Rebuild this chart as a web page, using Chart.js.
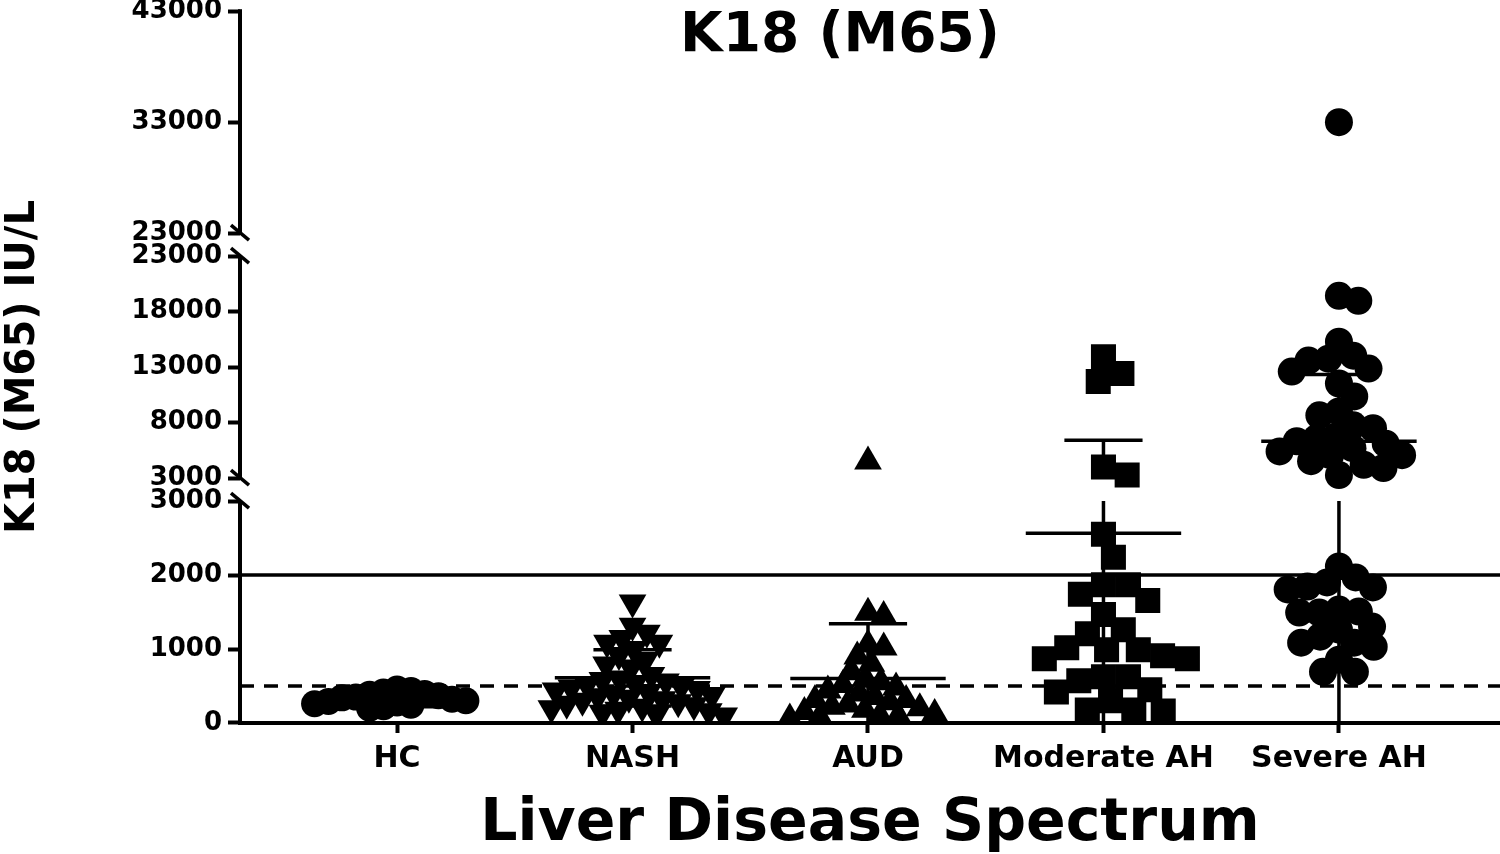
<!DOCTYPE html>
<html>
<head>
<meta charset="utf-8">
<script src="https://cdn.jsdelivr.net/npm/chart.js@4.4.0/dist/chart.umd.min.js"></script>
<style>
  html, body { margin: 0; padding: 0; background: #fff; }
  canvas { display: block; }
</style>
</head>
<body>
<canvas id="k18Chart" width="1500" height="854"></canvas>
<script>
// values (IU/L)
const groups = ['HC', 'NASH', 'AUD', 'Moderate AH', 'Severe AH'];
const hcValues = [460, 440, 420, 400, 390, 370, 350, 340, 320, 300, 290, 270, 260, 240, 220, 200];
const nashValues = [1630, 1316, 1220, 1150, 1085, 1085, 1000, 920, 850, 790, 750, 650, 600, 580, 560, 540,
  520, 500, 480, 460, 440, 420, 400, 380, 360, 340, 320, 300, 280, 260, 240, 220, 200, 180, 160, 140, 120, 100];
const audValues = [4500, 1490, 1445, 1060, 1020, 900, 800, 700, 600, 550, 515, 480, 440, 400, 350, 312, 312,
  280, 250, 220, 200, 180, 150, 120, 100, 95, 80, 60];
const moderateValues = [13940, 12420, 11700, 3990, 3270, 2550, 2240, 1870, 1870, 1740, 1655, 1466, 1260, 1207,
  1017, 990, 990, 909, 868, 868, 624, 624, 570, 448, 420, 300, 176, 176, 163];
const severeValues = [33000, 19420, 18970, 15290, 14030, 13760, 13590, 12870, 12600, 11520, 10360, 9010, 8650,
  7750, 7490, 6770, 6590, 6320, 6100, 5690, 5400, 5060, 5060, 4520, 4200, 3900, 3270,
  2117, 1968, 1900, 1845, 1832, 1805, 1533, 1506, 1493, 1493, 1303, 1262, 1167, 1086, 1086, 1031, 855, 692, 692];
const groupMeans = [320, 610, 600, 2565, 6320];
const sdUpper = [420, 990, 1343, 6400, 12330];
const sdLower = [220, 230, 0, 0, 0];
const cutoffSolid = 2000;
const cutoffDashed = 500;
const lowTicks = [0, 1000, 2000, 3000];
const midTicks = [3000, 8000, 13000, 18000, 23000];
const highTicks = [23000, 33000, 43000];

const titleText = 'K18 (M65)';
const yTitle = 'K18 (M65) IU/L';
const xTitle = 'Liver Disease Spectrum';

// ---- layout settings ----
Chart.defaults.font.family = '"DejaVu Sans", "Liberation Sans", sans-serif';
Chart.defaults.font.weight = 'bold';
Chart.defaults.color = '#000';

const xMin = -0.667, xMax = 4.684;
const catPx = 1260 / (xMax - xMin);
const segH = 222, segGap = 23;
const segs = [
  { id: 'yLow', min: 0, max: 3000, ticks: lowTicks },
  { id: 'yMid', min: 3000, max: 23000, ticks: midTicks },
  { id: 'yHigh', min: 23000, max: 43000, ticks: highTicks }
];

const allValues = [hcValues, nashValues, audValues, moderateValues, severeValues];
const markerStyle = ['circle', 'triangle', 'triangle', 'rect', 'circle'];
const markerRot = [0, 180, 0, 0, 0];
const markerRadius = [13.5, 16, 16, 17.7, 14];
const swarmGap = [14, 16, 16, 25, 20];

function segIndex(v) {
  if (v <= 3000) return 0;
  if (v <= 23000) return 1;
  return 2;
}

// approximate pixel height of a value, used only to spread the dots sideways
function toPx(v) {
  const i = segIndex(v);
  const s = segs[i];
  return i * (segH + segGap) + (v - s.min) * segH / (s.max - s.min);
}

// simple beeswarm: each dot goes as close to the centre as it can without overlapping
function swarm(vals, d) {
  const ys = vals.map(toPx);
  const order = vals.map((v, i) => i).sort((a, b) => ys[b] - ys[a]);
  const placed = [];
  const xs = [];
  order.forEach(i => {
    const y = ys[i];
    const cands = [0];
    placed.forEach(p => {
      const dy = Math.abs(p.y - y);
      if (dy < d) {
        const dx = Math.sqrt(d * d - dy * dy);
        cands.push(p.x + dx, p.x - dx);
      }
    });
    cands.sort((a, b) => Math.abs(a) - Math.abs(b));
    const x = cands.find(c => placed.every(p => (p.x - c) ** 2 + (p.y - y) ** 2 >= d * d - 0.01));
    placed.push({ x: x, y: y });
    xs[i] = x;
  });
  return xs;
}

const datasets = [];
const lineStyle = { showLine: true, pointRadius: 0, borderColor: '#000', borderWidth: 3.5, fill: false };

// cut-off lines
datasets.push(Object.assign({}, lineStyle, {
  yAxisID: 'yLow', data: [{ x: xMin, y: cutoffSolid }, { x: xMax, y: cutoffSolid }]
}));
datasets.push(Object.assign({}, lineStyle, {
  yAxisID: 'yLow', borderDash: [14, 10], data: [{ x: xMin, y: cutoffDashed }, { x: xMax, y: cutoffDashed }]
}));

// mean +/- SD bars
groups.forEach((g, i) => {
  datasets.push(Object.assign({}, lineStyle, {
    yAxisID: segs[segIndex(groupMeans[i])].id,
    data: [{ x: i - 0.33, y: groupMeans[i] }, { x: i + 0.33, y: groupMeans[i] }]
  }));
  [sdUpper[i], sdLower[i]].forEach(v => {
    if (v <= 0) return;
    datasets.push(Object.assign({}, lineStyle, {
      yAxisID: segs[segIndex(v)].id,
      data: [{ x: i - 0.166, y: v }, { x: i + 0.166, y: v }]
    }));
  });
  segs.forEach(s => {
    const lo = Math.max(sdLower[i], s.min), hi = Math.min(sdUpper[i], s.max);
    if (hi > lo) {
      datasets.push(Object.assign({}, lineStyle, {
        yAxisID: s.id, data: [{ x: i, y: lo }, { x: i, y: hi }]
      }));
    }
  });
});

// the dots, one dataset per group and axis segment
allValues.forEach((vals, gi) => {
  const xs = swarm(vals, swarmGap[gi]);
  segs.forEach((s, si) => {
    const pts = [];
    vals.forEach((v, k) => {
      if (segIndex(v) === si) pts.push({ x: gi + xs[k] / catPx, y: v });
    });
    if (!pts.length) return;
    datasets.push({
      label: groups[gi],
      yAxisID: s.id,
      data: pts,
      pointStyle: markerStyle[gi],
      rotation: markerRot[gi],
      pointRadius: markerRadius[gi],
      pointBorderWidth: 0,
      backgroundColor: '#000',
      borderColor: '#000'
    });
  });
});

// y scales stacked on top of each other, each with a bit of room for the break
const scales = {
  x: {
    type: 'linear', min: xMin, max: xMax,
    afterBuildTicks: s => { s.ticks = groups.map((g, i) => ({ value: i })); },
    afterFit: s => { s.paddingLeft = 0; s.paddingRight = 0; s.height = 131; },
    ticks: { callback: v => groups[v], font: { size: 30 }, padding: 8, maxRotation: 0, autoSkip: false },
    grid: { drawOnChartArea: false, tickLength: 10, tickWidth: 4, color: '#000' },
    border: { display: true, width: 4, color: '#000' },
    title: { display: true, text: xTitle, font: { size: 58.5, lineHeight: 1 }, padding: { top: 0, bottom: 0 } }
  }
};
segs.forEach((s, i) => {
  const pad = (segGap / 2) * (s.max - s.min) / segH;
  scales[s.id] = {
    type: 'linear', position: 'left', stack: 'k18',
    stackWeight: segH + (i === 1 ? segGap : segGap / 2),
    min: i === 0 ? s.min : s.min - pad,
    max: i === 2 ? s.max : s.max + pad,
    afterBuildTicks: sc => { sc.ticks = s.ticks.map(v => ({ value: v })); },
    afterFit: sc => { sc.width = 240; },
    ticks: { callback: v => String(v), font: { size: 26, lineHeight: 0.4 }, padding: 6 },
    grid: { drawOnChartArea: false, tickLength: 12, tickWidth: 4, color: '#000' },
    border: { display: false },
    title: { display: i === 1, text: yTitle, font: { size: 40 }, padding: 0 }
  };
});

// axis line pieces with the // marks, plus the title inside the plot
const axisBreaks = {
  id: 'axisBreaks',
  afterDraw(chart) {
    const ctx = chart.ctx;
    const x = chart.chartArea.left;
    ctx.save();
    ctx.strokeStyle = '#000';
    ctx.lineWidth = 4;
    segs.forEach((s, i) => {
      const sc = chart.scales[s.id];
      const top = sc.getPixelForValue(s.max);
      const bot = sc.getPixelForValue(s.min);
      ctx.beginPath();
      ctx.moveTo(x, i === 0 ? bot + 2 : bot);
      ctx.lineTo(x, i === 2 ? top - 2 : top);
      ctx.stroke();
      ctx.lineWidth = 3.5;
      if (i < 2) {
        ctx.beginPath(); ctx.moveTo(x - 9, top - 8); ctx.lineTo(x + 9, top + 7); ctx.stroke();
      }
      if (i > 0) {
        ctx.beginPath(); ctx.moveTo(x - 9, bot - 8); ctx.lineTo(x + 9, bot + 7); ctx.stroke();
      }
      ctx.lineWidth = 4;
    });
    ctx.fillStyle = '#000';
    ctx.font = 'bold 55px "DejaVu Sans"';
    ctx.textAlign = 'center';
    ctx.textBaseline = 'middle';
    ctx.fillText(titleText, 840, 37);
    ctx.restore();
  }
};

const ctx = document.getElementById('k18Chart').getContext('2d');
const k18Chart = new Chart(ctx, {
  type: 'scatter',
  data: { datasets: datasets },
  options: {
    responsive: false,
    animation: false,
    devicePixelRatio: 1,
    layout: { padding: 0, autoPadding: false },
    plugins: { legend: { display: false }, tooltip: { enabled: false } },
    scales: scales
  },
  plugins: [axisBreaks]
});
</script>
</body>
</html>
